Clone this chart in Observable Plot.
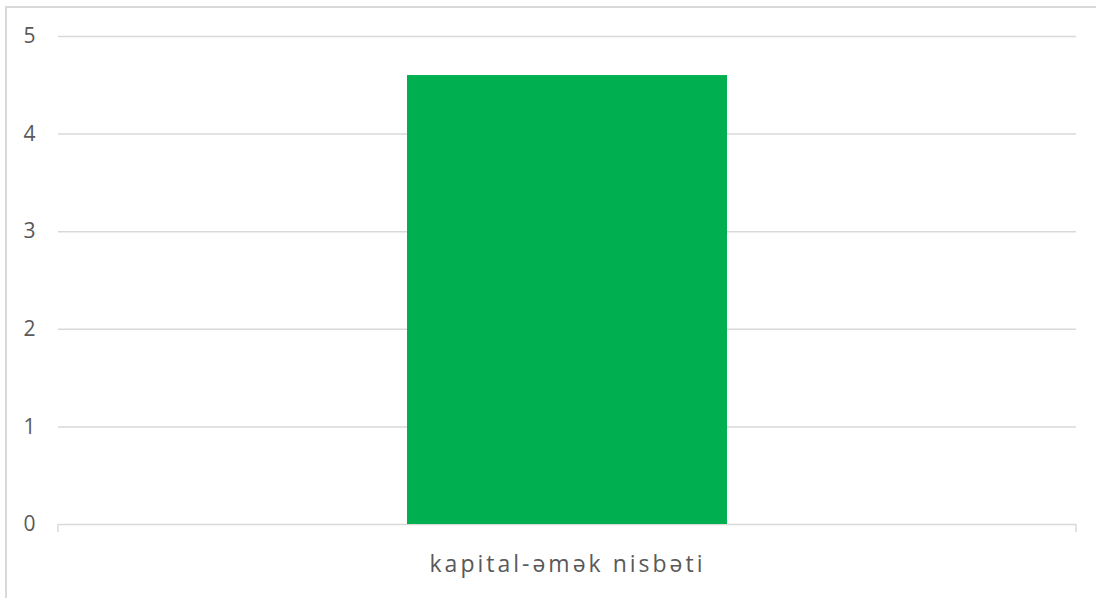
<!DOCTYPE html>
<html>
<head>
<meta charset="utf-8">
<script src="https://cdn.jsdelivr.net/npm/d3@7"></script>
<script src="https://cdn.jsdelivr.net/npm/@observablehq/plot@0.6"></script>
<style>
  html, body { margin: 0; padding: 0; background: #fff; overflow: hidden; width: 1096px; height: 598px; }
  #frame { position: absolute; left: 5px; top: 6px; width: 1200px; height: 700px; border: 2px solid #d9d9d9; box-sizing: border-box; }
  #chart { position: absolute; left: 0; top: 0; }
</style>
</head>
<body>
<div id="frame"></div>
<div id="chart"></div>
<script>
const categories = ["kapital-əmək nisbəti"];
const values = [4.6];
const yTicks = [0, 1, 2, 3, 4, 5];

const data = categories.map((c, i) => ({ category: c, value: values[i] }));

const gridColor = "#d9d9d9";
const textColor = "#595959";

const plot = Plot.plot({
  width: 1096,
  height: 598,
  marginLeft: 58,
  marginRight: 20,
  marginTop: 36,
  marginBottom: 74,
  style: { fontFamily: "'Open Sans', sans-serif", color: textColor, background: "transparent", overflow: "visible" },
  x: { domain: categories, padding: 0.5217, label: null },
  y: { domain: [0, 5], ticks: yTicks, label: null },
  marks: [
    Plot.ruleY(yTicks, { stroke: gridColor, strokeWidth: 1.5 }),
    Plot.barY(data, { x: "category", y: "value", fill: "#00b050" }),
    Plot.axisY({ ticks: yTicks, tickFormat: "d", tickSize: 0, tickPadding: 23, fontSize: 21, fill: textColor, label: null }),
    Plot.axisX({ tickSize: 0, tickPadding: 31, fontSize: 23, fill: textColor, label: null })
  ]
});

document.getElementById("chart").appendChild(plot);

const svg = d3.select(plot);
// wider tracking for the category label, to match the reference typeface
svg.selectAll('[aria-label="x-axis tick label"] text').attr("letter-spacing", 3);

// end ticks at the category boundaries, derived from the x scale's range
const xs = plot.scale("x");
const ys = plot.scale("y");
const y0 = ys.apply(0);
svg.append("g")
  .selectAll("line")
  .data(xs.range)
  .join("line")
  .attr("x1", d => d).attr("x2", d => d)
  .attr("y1", y0).attr("y2", y0 + 8)
  .attr("stroke", gridColor)
  .attr("stroke-width", 1.5);
</script>
</body>
</html>
